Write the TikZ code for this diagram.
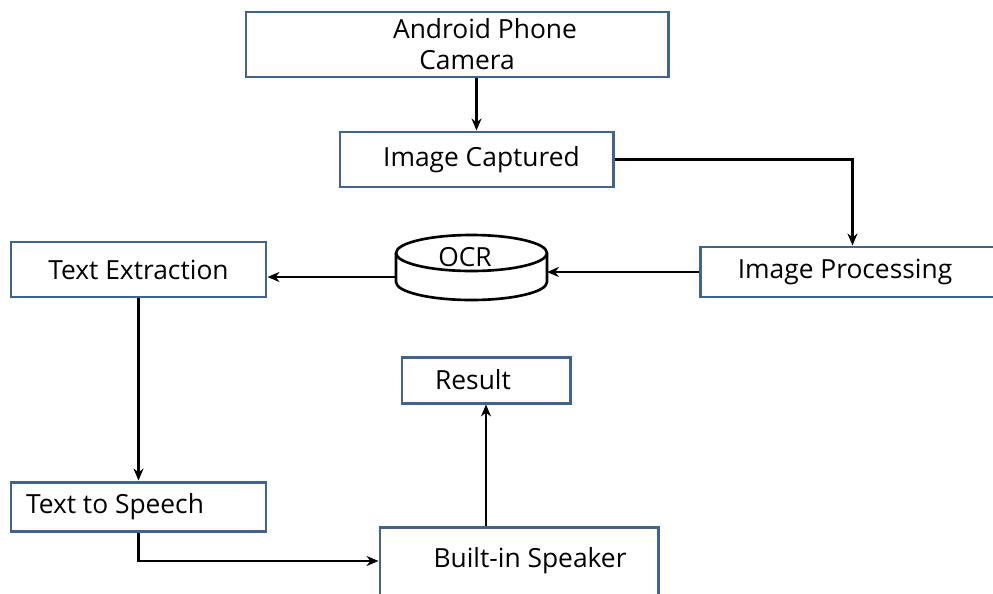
\documentclass[tikz,border=0pt]{standalone}
\usepackage{fontspec}
\setmainfont{Open Sans}
\usepackage{tikz}
\usetikzlibrary{positioning, arrows.meta, calc}
\definecolor{boxblue}{HTML}{41648F}

\begin{document}
\begin{tikzpicture}[
    box/.style={rectangle, draw=boxblue, fill=white, line width=1.7pt, align=center, font=\fontsize{15}{17.6}\selectfont, inner sep=0pt},
    arr/.style={-{Stealth[length=2.4mm, width=2mm]}, line width=1.5pt},
    lbl/.style={font=\fontsize{15}{17.6}\selectfont},
  ]
    \useasboundingbox (0,0) rectangle (19.86,-11.86);
    \node[box, minimum width=8.44cm, minimum height=1.30cm] (cam) at (9.14,-0.89) {\hspace*{1.12cm}Android Phone\\\hspace*{0.4cm}Camera};
    \node[box, minimum width=5.46cm, minimum height=1.10cm] (cap) at (9.53,-3.19) {\hspace*{0.2cm}Image Captured};
    \node[box, minimum width=6.10cm, minimum height=1.00cm] (proc) at (17.05,-5.44) {Image Processing\hspace*{0.3cm}};
    \node[box, minimum width=5.10cm, minimum height=1.10cm] (tex) at (2.77,-5.39) {Text Extraction};
    \node[box, minimum width=3.36cm, minimum height=0.92cm] (res) at (9.72,-7.60) {Result\hspace*{0.52cm}};
    \node[box, minimum width=5.10cm, minimum height=0.98cm] (tts) at (2.77,-10.13) {Text to Speech\hspace*{0.94cm}};
    \node[box, minimum width=5.56cm, minimum height=1.36cm] (spk) at (10.38,-11.22) {\hspace*{0.44cm}Built-in Speaker};

    % OCR drum
    \coordinate (ocrtop) at (9.43,-5.06);
    \draw[line width=1.5pt, fill=white] ([xshift=-1.51cm]ocrtop) -- ++(0,-0.58) arc (180:360:1.51 and 0.36) -- ++(0,0.58);
    \draw[line width=1.5pt, fill=white] (ocrtop) ellipse (1.51 and 0.36);
    \node[lbl] (ocr) at ([xshift=-0.13cm,yshift=-0.08cm]ocrtop) {OCR};
    \coordinate (ocrin) at ([xshift=1.51cm,yshift=-0.38cm]ocrtop);
    \coordinate (ocrout) at ([xshift=-1.51cm,yshift=-0.48cm]ocrtop);

    \draw[arr] (cap.north |- cam.south) -- (cap.north);
    \draw[arr] (cap.east) -| (proc.north);
    \draw[arr] (proc.west |- ocrin) -- (ocrin);
    \draw[arr] (ocrout) -- (ocrout -| tex.east);
    \draw[arr] (tex.south) -- (tts.north);
    \draw[arr] (tts.south) |- (spk.west);
    \draw[arr] (spk.north -| res.south) -- (res.south);
  \end{tikzpicture}
\end{document}
